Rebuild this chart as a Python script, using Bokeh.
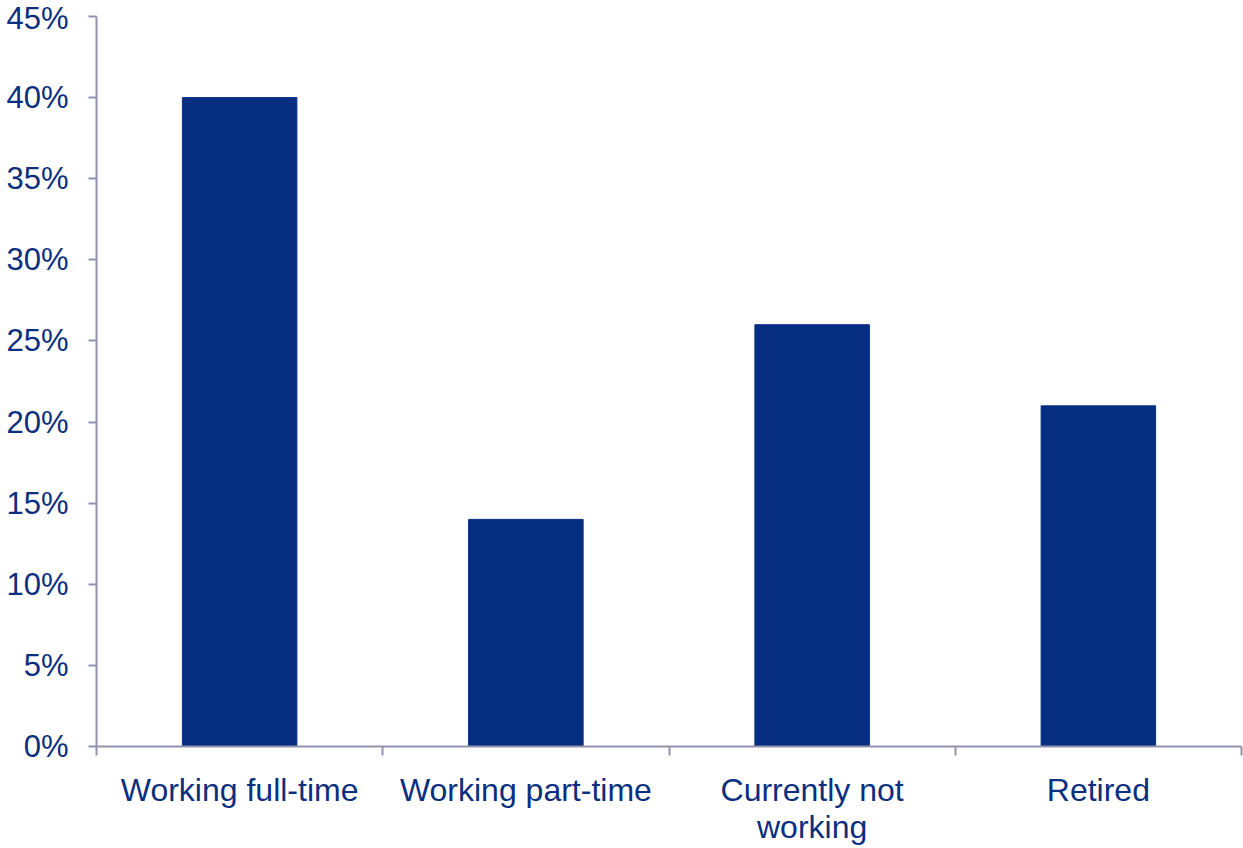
from bokeh.plotting import figure
from bokeh.models import ColumnDataSource, FixedTicker, Range1d, NumeralTickFormatter
from bokeh.embed import file_html
from bokeh.resources import INLINE

categories = ["Working full-time", "Working part-time", "Currently not\nworking", "Retired"]
values = [0.40, 0.14, 0.26, 0.21]

y_ticks = [0.0, 0.05, 0.10, 0.15, 0.20, 0.25, 0.30, 0.35, 0.40, 0.45]

BAR = "#062E80"
TEXT = "#0A2F7F"
AXIS = "#9191AE"
FONT = "Liberation Sans"

x_pos = [i + 0.5 for i in range(len(categories))]
source = ColumnDataSource(dict(x=x_pos, top=values, cat=categories))

p = figure(width=1243, height=848, output_backend="svg", toolbar_location=None,
           x_range=Range1d(0, len(categories)), y_range=Range1d(0, 0.45),
           min_border_left=96, min_border_right=2, min_border_top=16, min_border_bottom=10)

p.vbar(x="x", top="top", width=0.4, bottom=0, source=source, color=BAR, line_color=BAR)

p.outline_line_color = None
p.background_fill_color = "white"
p.border_fill_color = "white"
p.xgrid.visible = False
p.ygrid.visible = False

# y axis
p.yaxis.ticker = FixedTicker(ticks=y_ticks, minor_ticks=[])
p.yaxis.formatter = NumeralTickFormatter(format="0%")
p.yaxis.axis_line_color = AXIS
p.yaxis.axis_line_width = 2
p.yaxis.major_tick_line_color = AXIS
p.yaxis.major_tick_line_width = 2
p.yaxis.major_tick_out = 8
p.yaxis.major_tick_in = 0
p.yaxis.minor_tick_line_color = None
p.yaxis.major_label_text_font = FONT
p.yaxis.major_label_text_font_size = "31px"
p.yaxis.major_label_text_color = TEXT
p.yaxis.major_label_standoff = 20

# x axis: labels at centres, ticks at category boundaries
p.xaxis.ticker = FixedTicker(ticks=x_pos, minor_ticks=list(range(len(categories) + 1)))
p.xaxis.major_label_overrides = {x: c for x, c in zip(x_pos, categories)}
p.xaxis.axis_line_color = AXIS
p.xaxis.axis_line_width = 2
p.xaxis.major_tick_line_color = None
p.xaxis.minor_tick_line_color = AXIS
p.xaxis.minor_tick_line_width = 2
p.xaxis.minor_tick_out = 9
p.xaxis.minor_tick_in = 0
p.xaxis.major_tick_out = 9
p.xaxis.major_label_text_font = FONT
p.xaxis.major_label_text_font_size = "32px"
p.xaxis.major_label_text_color = TEXT
p.xaxis.major_label_text_align = "center"
p.xaxis.major_label_text_line_height = 1.05
p.xaxis.major_label_standoff = 16

open("out.html", "w").write(file_html(p, INLINE))
